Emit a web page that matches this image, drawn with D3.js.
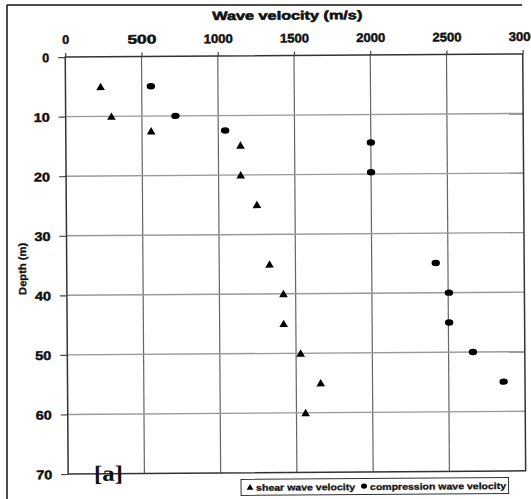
<!DOCTYPE html>
<html>
<head>
<meta charset="utf-8">
<script src="https://cdn.jsdelivr.net/npm/d3@7"></script>
<style>
  html, body { margin: 0; padding: 0; background: #fff; }
  svg { display: block; }
</style>
</head>
<body>
<svg id="chart" width="531" height="499"></svg>
<script>
// ---- Data ----
const shearVelocity = [230, 300, 560, 1145, 1145, 1250, 1330, 1420, 1420, 1530, 1660, 1560];
const shearDepth    = [5, 10, 12.5, 15, 20, 25, 35, 40, 45, 50, 55, 60];
const compVelocity  = [560, 720, 1045, 2000, 2000, 2420, 2505, 2505, 2660, 2860];
const compDepth     = [5, 10, 12.5, 14.7, 19.7, 35, 40, 45, 50, 55];
const xTicks = [0, 500, 1000, 1500, 2000, 2500, 3000];
const yTicks = [0, 10, 20, 30, 40, 50, 60, 70];
const xTitle = "Wave velocity (m/s)";
const yTitle = "Depth (m)";
const legendLabels = ["shear wave velocity", "compression wave velocity"];
const panelLabel = "[a]";

// ---- Layout ----
const W = 531, H = 499;
const pL = 66.7, pR = 524.2, pT = 55.5, pB = 472.4;
const cx = (pL + pR) / 2, cy = (pT + pB) / 2;
const SANS = "'Liberation Sans', Arial, sans-serif";
const SERIF = "'Liberation Serif', 'Times New Roman', serif";

const svg = d3.select("#chart");

// outer frame of the scanned figure
svg.append("line").attr("x1", 7).attr("x2", 522).attr("y1", 5).attr("y2", 5)
  .attr("stroke", "#111").attr("stroke-width", 1.5);
svg.append("line").attr("x1", 7).attr("x2", 7).attr("y1", 5).attr("y2", H)
  .attr("stroke", "#111").attr("stroke-width", 1.5);

const g = svg.append("g").attr("transform", `rotate(-0.4, ${cx}, ${cy})`);

const x = d3.scaleLinear().domain([0, 3000]).range([pL, pR]);
const y = d3.scaleLinear().domain([0, 70]).range([pT, pB]);

// gridlines
g.append("g").selectAll("line").data(xTicks.slice(1, -1)).join("line")
  .attr("x1", d => x(d)).attr("x2", d => x(d)).attr("y1", pT).attr("y2", pB)
  .attr("stroke", "#666").attr("stroke-width", 1.2);
g.append("g").selectAll("line").data(yTicks.slice(1, -1)).join("line")
  .attr("x1", pL).attr("x2", pR).attr("y1", d => y(d)).attr("y2", d => y(d))
  .attr("stroke", "#999").attr("stroke-width", 1.4);

// plot border
g.append("rect").attr("x", pL).attr("y", pT)
  .attr("width", pR - pL).attr("height", pB - pT)
  .attr("fill", "none").attr("stroke", "#333").attr("stroke-width", 1.5);

// heavy, scan-like text
function heavy(sel, sw) {
  sel.style("font-family", SANS).style("font-weight", "bold")
    .attr("fill", "#111").attr("stroke", "#111").attr("stroke-width", sw)
    .attr("stroke-linejoin", "round");
}

// axes
const xAxis = g.append("g").attr("transform", `translate(0,${pT})`)
  .call(d3.axisTop(x).tickValues(xTicks).tickSize(4).tickPadding(9).tickFormat(d3.format("d")));
const yAxis = g.append("g").attr("transform", `translate(${pL},0)`)
  .call(d3.axisLeft(y).tickValues(yTicks).tickSize(7).tickPadding(9).tickFormat(d3.format("d")));
[xAxis, yAxis].forEach(a => {
  a.select(".domain").remove();
  a.selectAll(".tick line").attr("stroke", "#444").attr("stroke-width", 1.2);
  a.selectAll(".tick text").attr("font-size", 12.5).call(heavy, 0.5);
});
xAxis.selectAll(".tick").filter(d => d > 0).select("text")
  .attr("textLength", 29).attr("lengthAdjust", "spacingAndGlyphs");
yAxis.selectAll(".tick text").attr("dy", "0.36em");
yAxis.selectAll(".tick").filter(d => d > 0).select("text")
  .attr("textLength", 16).attr("lengthAdjust", "spacingAndGlyphs");

// titles
g.append("text").attr("x", 289).attr("y", 19.5).attr("text-anchor", "middle")
  .attr("font-size", 12).attr("textLength", 150).attr("lengthAdjust", "spacingAndGlyphs")
  .call(heavy, 0.6)
  .text(xTitle);
g.append("text").attr("transform", `translate(26,${267}) rotate(-90)`)
  .attr("text-anchor", "middle").attr("font-size", 10.5)
  .attr("textLength", 52).attr("lengthAdjust", "spacingAndGlyphs")
  .call(heavy, 0.3)
  .text(yTitle);

// points
const tri = d3.symbol().type(d3.symbolTriangle).size(32);
g.append("g").selectAll("path").data(shearVelocity.map((v, i) => [v, shearDepth[i]])).join("path")
  .attr("d", tri)
  .attr("transform", d => `translate(${x(d[0])},${y(d[1]) + 1})`)
  .attr("fill", "#000");
g.append("g").selectAll("ellipse").data(compVelocity.map((v, i) => [v, compDepth[i]])).join("ellipse")
  .attr("cx", d => x(d[0])).attr("cy", d => y(d[1]))
  .attr("rx", 4.2).attr("ry", 3.2).attr("fill", "#000");

// panel label
g.append("text").attr("x", 107).attr("y", 479.5).attr("text-anchor", "middle")
  .style("font-family", SERIF).style("font-weight", "bold").attr("font-size", 22)
  .attr("fill", "#111")
  .attr("textLength", 29).attr("lengthAdjust", "spacingAndGlyphs")
  .text(panelLabel);

// legend
const lg = g.append("g");
lg.append("rect").attr("x", 239.5).attr("y", 479).attr("width", 267.5).attr("height", 16)
  .attr("fill", "#fff").attr("stroke", "#333").attr("stroke-width", 1);
lg.append("path").attr("d", d3.symbol().type(d3.symbolTriangle).size(20))
  .attr("transform", "translate(248.5,487.5)").attr("fill", "#000");
lg.append("text").attr("x", 254.5).attr("y", 490.5).attr("font-size", 9)
  .attr("textLength", 99).attr("lengthAdjust", "spacingAndGlyphs")
  .call(heavy, 0.3).text(legendLabels[0]);
lg.append("ellipse").attr("cx", 362.5).attr("cy", 486.5).attr("rx", 3).attr("ry", 2.6).attr("fill", "#000");
lg.append("text").attr("x", 368.5).attr("y", 490.5).attr("font-size", 9)
  .attr("textLength", 136).attr("lengthAdjust", "spacingAndGlyphs")
  .call(heavy, 0.3).text(legendLabels[1]);
</script>
</body>
</html>
